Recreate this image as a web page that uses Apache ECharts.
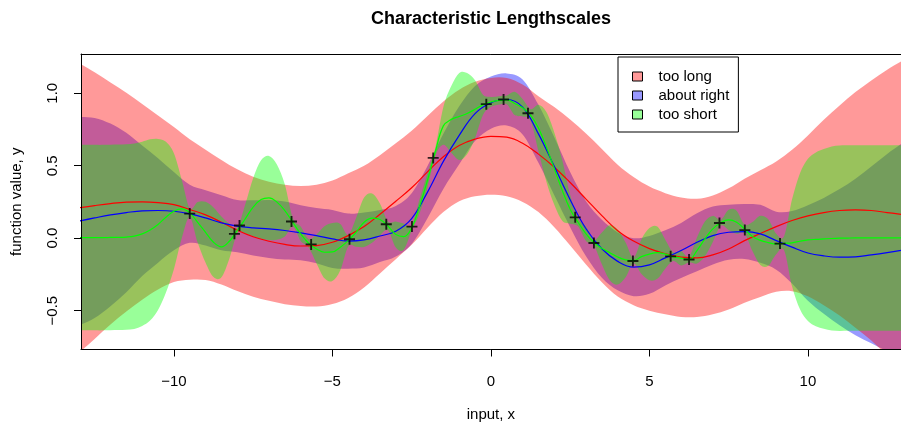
<!DOCTYPE html>
<html><head><meta charset="utf-8">
<script src="https://cdn.jsdelivr.net/npm/echarts@6/dist/echarts.min.js"></script>
<style>html,body{margin:0;padding:0;background:#fff}#c{width:901px;height:423px}</style>
</head><body><div id="c"></div>
<script>
// ---- data ----
const xTicks = [-10, -5, 0, 5, 10];
const yTicks = [-0.5, 0, 0.5, 1];
const seriesNames = ['too long', 'about right', 'too short'];

// observations (crosses)
const obsX = [-9.5,-8.09,-7.93,-6.29,-5.67,-4.46,-3.3,-2.49,-1.82,-0.145,0.4,1.17,2.66,3.25,4.48,5.67,6.25,7.21,8.01,9.12];
const obsY = [0.17,0.03,0.088,0.115,-0.043,-0.007,0.096,0.08,0.554,0.925,0.957,0.862,0.144,-0.033,-0.157,-0.125,-0.147,0.105,0.056,-0.037];

// sampling grid for the long / right lengthscale curves
const xs05 = [-13,-12.5,-12,-11.5,-11,-10.5,-10,-9.5,-9,-8.5,
  -8,-7.5,-7,-6.5,-6,-5.5,-5,-4.5,-4,-3.5,
  -3,-2.5,-2,-1.5,-1,-0.5,0,0.5,1,1.5,
  2,2.5,3,3.5,4,4.5,5,5.5,6,6.5,
  7,7.5,8,8.5,9,9.5,10,10.5,11,11.5,
  12,12.5,13];
// "too long": mean and half-width of band
const redMean = [0.209,0.225,0.239,0.249,0.251,0.246,0.232,0.198,0.161,0.11,
  0.055,0.01,-0.021,-0.043,-0.054,-0.051,-0.028,0.018,0.08,0.165,
  0.255,0.348,0.458,0.562,0.64,0.684,0.703,0.697,0.655,0.58,
  0.49,0.384,0.27,0.156,0.052,-0.02,-0.072,-0.107,-0.131,-0.136,
  -0.115,-0.074,-0.017,0.032,0.08,0.122,0.154,0.177,0.191,0.195,
  0.191,0.177,0.163];
const redHw = [1.0,0.92,0.835,0.755,0.675,0.6,0.535,0.485,0.45,0.43,
  0.42,0.414,0.411,0.412,0.414,0.42,0.426,0.43,0.42,0.408,
  0.4,0.394,0.386,0.382,0.385,0.395,0.403,0.408,0.405,0.4,
  0.415,0.435,0.452,0.46,0.455,0.442,0.428,0.418,0.412,0.408,
  0.41,0.418,0.428,0.437,0.45,0.488,0.555,0.64,0.725,0.813,
  0.897,0.985,1.064];
// "about right"
const blueMean = [0.117,0.14,0.161,0.177,0.189,0.191,0.186,0.168,0.14,0.106,
  0.083,0.071,0.064,0.053,0.037,0.018,-0.005,-0.02,-0.012,0.015,
  0.048,0.135,0.318,0.53,0.71,0.86,0.935,0.957,0.905,0.72,
  0.496,0.266,0.065,-0.073,-0.16,-0.2,-0.184,-0.136,-0.085,-0.028,
  0.018,0.041,0.046,0.03,-0.017,-0.062,-0.102,-0.122,-0.131,-0.129,
  -0.115,-0.099,-0.081];
const blueHw = [0.72,0.69,0.63,0.55,0.45,0.36,0.27,0.2,0.19,0.19,
  0.18,0.19,0.2,0.2,0.19,0.19,0.2,0.19,0.19,0.18,
  0.175,0.175,0.18,0.19,0.2,0.19,0.18,0.18,0.19,0.2,
  0.2,0.19,0.19,0.2,0.2,0.2,0.2,0.19,0.19,0.2,
  0.2,0.19,0.19,0.2,0.2,0.25,0.33,0.4,0.47,0.54,
  0.61,0.68,0.74];

// finer grid for the short lengthscale
const xs025 = [-13,-12.75,-12.5,-12.25,-12,-11.75,-11.5,-11.25,-11,-10.75,
  -10.5,-10.25,-10,-9.75,-9.5,-9.25,-9,-8.75,-8.5,-8.25,
  -8,-7.75,-7.5,-7.25,-7,-6.75,-6.5,-6.25,-6,-5.75,
  -5.5,-5.25,-5,-4.75,-4.5,-4.25,-4,-3.75,-3.5,-3.25,
  -3,-2.75,-2.5,-2.25,-2,-1.75,-1.5,-1.25,-1,-0.75,
  -0.5,-0.25,0,0.25,0.5,0.75,1,1.25,1.5,1.75,
  2,2.25,2.5,2.75,3,3.25,3.5,3.75,4,4.25,
  4.5,4.75,5,5.25,5.5,5.75,6,6.25,6.5,6.75,
  7,7.25,7.5,7.75,8,8.25,8.5,8.75,9,9.25,
  9.5,9.75,10,10.25,10.5,10.75,11,11.25,11.5,11.75,
  12,12.25,12.5,12.75,13];
const greenMean = [0.004,0.004,0.004,0.004,0.005,0.006,0.008,0.014,0.03,0.057,
  0.095,0.145,0.186,0.202,0.175,0.11,0.041,-0.028,-0.06,-0.021,
  0.053,0.133,0.214,0.267,0.278,0.249,0.191,0.11,0.03,-0.035,
  -0.074,-0.097,-0.095,-0.062,-0.017,0.041,0.11,0.138,0.129,0.085,
  0.025,0.011,0.071,0.22,0.4,0.6,0.775,0.82,0.84,0.86,
  0.89,0.92,0.94,0.95,0.955,0.93,0.9,0.85,0.76,0.63,
  0.48,0.33,0.2,0.11,0.03,-0.03,-0.07,-0.1,-0.13,-0.15,
  -0.155,-0.127,-0.11,-0.1,-0.11,-0.127,-0.138,-0.147,-0.085,-0.005,
  0.064,0.106,0.126,0.11,0.064,0.011,-0.015,-0.03,-0.04,-0.035,
  -0.032,-0.021,-0.012,-0.008,-0.005,-0.002,0,0.001,0.002,0.002,
  0.002,0.002,0.002,0.002,0.002];
const greenHw = [0.64,0.64,0.64,0.64,0.64,0.64,0.64,0.64,0.635,0.625,
  0.59,0.52,0.4,0.2,0.03,0.14,0.21,0.24,0.21,0.12,
  0.02,0.1,0.2,0.27,0.29,0.26,0.18,0.03,0.05,0.03,
  0.1,0.18,0.2,0.16,0.04,0.1,0.17,0.17,0.11,0.03,
  0.09,0.09,0.02,0.05,0.05,0.03,0.13,0.23,0.3,0.28,
  0.2,0.07,0.035,0.03,0.03,0.08,0.06,0.04,0.16,0.24,
  0.25,0.21,0.1,0.03,0.05,0.02,0.11,0.19,0.19,0.12,
  0.02,0.12,0.18,0.18,0.1,0.03,0.05,0.02,0.09,0.12,
  0.09,0.02,0.07,0.08,0.03,0.1,0.17,0.16,0.07,0.05,
  0.3,0.47,0.56,0.6,0.62,0.635,0.64,0.64,0.64,0.64,
  0.64,0.64,0.64,0.64,0.64];

// ---- chart ----
const FONT = '"Liberation Sans", Arial, Helvetica, sans-serif';
const fills = {'too long':'rgba(255,0,0,0.4)','about right':'rgba(0,0,255,0.4)','too short':'rgba(0,255,0,0.4)'};

function crPath(P, first) {
  let d = (first ? 'M' : 'L') + P[0][0] + ',' + P[0][1];
  for (let i = 0; i < P.length - 1; i++) {
    const p0 = P[i-1] || P[i], p1 = P[i], p2 = P[i+1], p3 = P[i+2] || P[i+1];
    const c1x = p1[0] + (p2[0]-p0[0])/6, c1y = p1[1] + (p2[1]-p0[1])/6;
    const c2x = p2[0] - (p3[0]-p1[0])/6, c2y = p2[1] - (p3[1]-p1[1])/6;
    d += 'C' + c1x + ',' + c1y + ',' + c2x + ',' + c2y + ',' + p2[0] + ',' + p2[1];
  }
  return d;
}
function band(name, xs, mean, hw) {
  return {
    type: 'custom', name: name, z: 1, clip: true, silent: true,
    data: [[0, 0]],
    renderItem: function (params, api) {
      const up = xs.map((x, i) => api.coord([x, mean[i] + hw[i]]));
      const lo = xs.map((x, i) => api.coord([x, mean[i] - hw[i]])).reverse();
      return { type: 'path', shape: { pathData: crPath(up, true) + crPath(lo, false) + 'Z' },
               style: { fill: fills[name], stroke: null } };
    }
  };
}
function meanLine(id, xs, mean, color) {
  return { type: 'line', name: id, z: 3, smooth: 0.4, showSymbol: false, symbol: 'none', silent: true,
    data: xs.map((x, i) => [x, mean[i]]), lineStyle: { color: color, width: 1.2 }, itemStyle: { color: color } };
}
const fmt = (dec) => (v) => (v < 0 ? '\u2212' : '') + Math.abs(v).toFixed(dec);

const chart = echarts.init(document.getElementById('c'));
chart.setOption({
  animation: false,
  backgroundColor: '#fff',
  title: { text: 'Characteristic Lengthscales', left: 491, top: 10, textAlign: 'center', padding: 0,
    textStyle: { fontSize: 18, fontWeight: 'bold', color: '#000', fontFamily: FONT } },
  grid: { left: 81, top: 54, width: 819.8, height: 295.5, containLabel: false, outerBoundsMode: 'none' },
  legend: { show: true, orient: 'vertical', left: 618, top: 57, selectedMode: false,
    backgroundColor: '#fff', borderColor: '#000', borderWidth: 1, borderRadius: 0,
    padding: [12, 9, 10, 14], itemGap: 4, itemWidth: 10, itemHeight: 9, icon: 'rect',
    textStyle: { fontSize: 15, color: '#000', fontFamily: FONT, padding: [0, 0, 0, 11] },
    itemStyle: { borderColor: '#000', borderWidth: 1 },
    data: seriesNames.map(n => ({ name: n, icon: 'rect', itemStyle: { color: fills[n], borderColor: '#000', borderWidth: 1 } })) },
  xAxis: [{
    type: 'value', min: -12.93, max: 12.93, position: 'bottom', z: 5,
    axisLine: { show: true, onZero: false, lineStyle: { color: '#000', width: 1 } },
    axisTick: { show: true, length: 7, customValues: xTicks, lineStyle: { color: '#000' } },
    axisLabel: { customValues: xTicks, formatter: fmt(0), color: '#000', fontSize: 15, fontFamily: FONT, margin: 25 },
    splitLine: { show: false },
    name: 'input, x', nameLocation: 'middle', nameGap: 58, nameMoveOverlap: false,
    nameTextStyle: { fontSize: 15, color: '#000', fontFamily: FONT }
  }, {
    type: 'value', min: -12.93, max: 12.93, position: 'top', z: 5,
    axisLine: { show: true, onZero: false, lineStyle: { color: '#000', width: 1 } },
    axisTick: { show: false }, axisLabel: { show: false }, splitLine: { show: false }
  }],
  yAxis: [{
    type: 'value', min: -0.768, max: 1.271, position: 'left', z: 5,
    axisLine: { show: true, onZero: false, lineStyle: { color: '#000', width: 1 } },
    axisTick: { show: true, length: 7, customValues: yTicks, lineStyle: { color: '#000' } },
    axisLabel: { customValues: yTicks, formatter: fmt(1), rotate: 90, color: '#000', fontSize: 15, fontFamily: FONT, margin: 21 },
    splitLine: { show: false },
    name: 'function value, y', nameLocation: 'middle', nameGap: 57, nameMoveOverlap: false,
    nameTextStyle: { fontSize: 15, color: '#000', fontFamily: FONT }
  }],
  series: [
    band('about right', xs05, blueMean, blueHw),
    band('too long', xs05, redMean, redHw),
    band('too short', xs025, greenMean, greenHw),
    meanLine('mean long', xs05, redMean, '#ff0000'),
    meanLine('mean right', xs05, blueMean, '#0000ff'),
    meanLine('mean short', xs025, greenMean, '#00ff00'),
    { type: 'scatter', name: 'observations', z: 4, silent: true,
      symbol: 'path://M4.15,0H5.85V4.15H10V5.85H5.85V10H4.15V5.85H0V4.15H4.15Z', symbolSize: 11,
      itemStyle: { color: '#000' },
      data: obsX.map((x, i) => [x, obsY[i]]) }
  ]
});
</script></body></html>
